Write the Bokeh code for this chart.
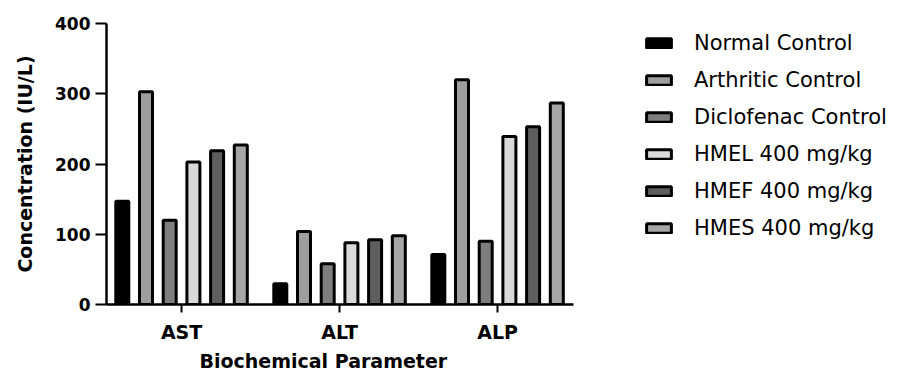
from bokeh.plotting import figure
from bokeh.models import ColumnDataSource, Range1d, FixedTicker, Legend, LegendItem, Title
from bokeh.transform import dodge
from bokeh.embed import file_html
from bokeh.resources import INLINE

# ---- data ----
parameters = ["AST", "ALT", "ALP"]
groups = ["Normal Control", "Arthritic Control", "Diclofenac Control",
          "HMEL 400 mg/kg", "HMEF 400 mg/kg", "HMES 400 mg/kg"]
normal_control = [147, 29.5, 71]
arthritic_control = [303, 104, 320]
diclofenac_control = [120, 58, 90]
hmel_400 = [203, 88, 239]
hmef_400 = [219, 92, 253]
hmes_400 = [227, 98, 287]
y_ticks = [0, 100, 200, 300, 400]
x_title = "Biochemical Parameter"
y_title = "Concentration (IU/L)"

series = [normal_control, arthritic_control, diclofenac_control, hmel_400, hmef_400, hmes_400]
colors = ["#000000", "#9e9e9e", "#7e7e7e", "#d9d9d9", "#5e5e5e", "#a6a6a6"]

data = {"x": list(range(len(parameters)))}
for i, s in enumerate(series):
    data["s%d" % i] = s
src = ColumnDataSource(data)

FONT = "DejaVu Sans"
LEFT = 106
X0, X1 = -0.475, 2.48          # extent of the drawn x axis
PX_PER_UNIT = 158.0
FRAME_W = 907 - LEFT

p = figure(width=907, height=375, output_backend="svg", toolbar_location=None,
           x_range=Range1d(X0, X0 + FRAME_W / PX_PER_UNIT), y_range=Range1d(0, 400),
           min_border_left=LEFT, min_border_right=0, min_border_top=23, min_border_bottom=71)
p.outline_line_color = None
p.xgrid.grid_line_color = None
p.ygrid.grid_line_color = None
p.background_fill_color = "white"
p.border_fill_color = "white"

pitch = 0.150
bw = 0.0823
items = []
for i, name in enumerate(groups):
    off = (i - 2.5) * pitch
    r = p.vbar(x=dodge("x", off, range=p.x_range), top="s%d" % i, width=bw, bottom=0,
               source=src, fill_color=colors[i], line_color="black", line_width=3)
    items.append(LegendItem(label=name, renderers=[r]))

# axes
p.xaxis.bounds = (X0, X1)
p.xaxis.ticker = FixedTicker(ticks=list(range(len(parameters))))
p.xaxis.major_label_overrides = {i: t for i, t in enumerate(parameters)}
p.yaxis.ticker = FixedTicker(ticks=y_ticks)
for ax in (p.xaxis[0], p.yaxis[0]):
    ax.axis_line_width = 2.5
    ax.axis_line_color = "black"
    ax.major_tick_line_width = 2
    ax.major_tick_line_color = "black"
    ax.minor_tick_line_color = None
    ax.major_tick_in = 0
    ax.major_label_text_font = FONT
    ax.major_label_text_font_style = "bold"
    ax.major_label_text_color = "black"
    ax.axis_label_text_font = FONT
    ax.axis_label_text_font_style = "bold"
    ax.axis_label_text_color = "black"
p.yaxis.major_tick_out = 11
p.xaxis.major_tick_out = 8
p.yaxis.major_label_text_font_size = "17px"
p.xaxis.major_label_text_font_size = "19px"
p.yaxis.major_label_standoff = 5
p.xaxis.major_label_standoff = 8
p.yaxis.axis_label = y_title
p.yaxis.axis_label_text_font_size = "19px"
p.yaxis.axis_label_standoff = 16

xt = Title(text=x_title, align="left", offset=93, standoff=4,
           text_font=FONT, text_font_style="bold", text_font_size="19px",
           text_color="black")
p.add_layout(xt, "below")

legend = Legend(items=items, location=(537, 64), orientation="vertical",
                label_text_font=FONT, label_text_font_size="21px", label_text_color="black",
                glyph_width=31, glyph_height=12, label_height=20, label_standoff=20,
                spacing=13, padding=0, margin=0, border_line_color=None,
                background_fill_alpha=0)
p.add_layout(legend, "center")

open("out.html", "w").write(file_html(p, INLINE))
